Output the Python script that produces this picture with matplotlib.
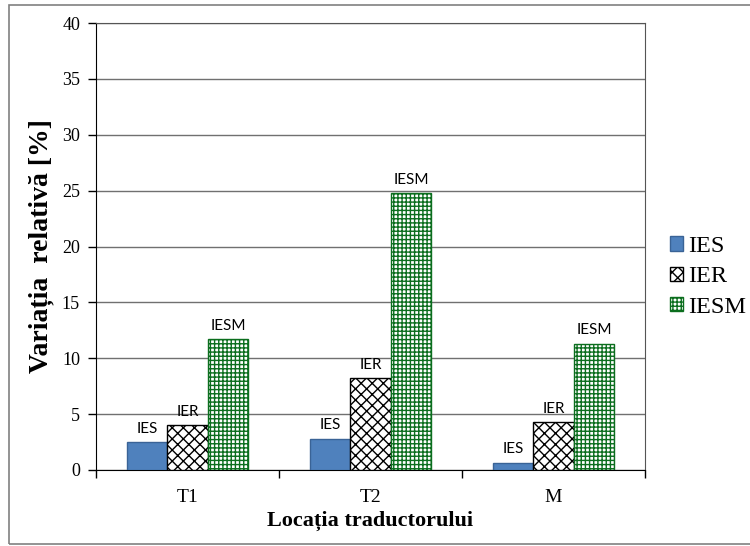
import matplotlib
matplotlib.use("Agg")
import matplotlib.pyplot as plt
import numpy as np
from matplotlib.patches import Rectangle

# Data
categories = ["T1", "T2", "M"]
series_names = ["IES", "IER", "IESM"]
ies_values = [2.5, 2.8, 0.65]
ier_values = [4.0, 8.2, 4.3]
iesm_values = [11.7, 24.8, 11.3]
y_ticks = [0, 5, 10, 15, 20, 25, 30, 35, 40]

serif = ["Liberation Serif", "DejaVu Serif"]
sans = ["Lato", "DejaVu Sans"]

fig = plt.figure(figsize=(7.5, 5.46), dpi=100)
ax = fig.add_axes([96 / 750, 1 - 470 / 546, (645 - 96) / 750, (470 - 23) / 546])

# outer chart border (right edge runs off the canvas)
fig.patches.append(Rectangle((9 / 750, 2 / 546), 745 / 750, 539 / 546,
                             transform=fig.transFigure, fill=False,
                             edgecolor="#808080", linewidth=1.2))

x = np.arange(len(categories))
w = 0.222
styles = [
    dict(facecolor="#4F81BD", edgecolor="#3A6396", hatch=None),
    dict(facecolor="white", edgecolor="black", hatch="xxx"),
    dict(facecolor="white", edgecolor="#0B6E1E", hatch="++++"),
]
all_vals = [ies_values, ier_values, iesm_values]
handles = []
for i, (name, vals, st) in enumerate(zip(series_names, all_vals, styles)):
    pos = x + (i - 1) * w
    bars = ax.bar(pos, vals, width=w, label=name, linewidth=1.0, zorder=3, **st)
    handles.append(bars)
    for p, v in zip(pos, vals):
        ax.annotate(name, (p, v), xytext=(0, 4.5), textcoords="offset points",
                    ha="center", va="bottom", fontsize=11, family=sans, zorder=4)

ax.set_xlim(-0.5, 2.5)
ax.set_ylim(0, 40)
ax.set_yticks(y_ticks)
ax.set_yticklabels([str(t) for t in y_ticks], family=serif, fontsize=13)
ax.set_xticks(x)
ax.set_xticklabels(categories, family=serif, fontsize=14)
ax.set_xticks([-0.5, 0.5, 1.5, 2.5], minor=True)
ax.tick_params(axis="x", which="major", length=0, pad=14)
ax.tick_params(axis="x", which="minor", length=6, width=1, direction="out")
ax.tick_params(axis="y", length=6, width=1, direction="out", pad=5.5)

ax.yaxis.grid(True, color="#707070", linewidth=1.0, zorder=0)
ax.set_axisbelow(True)
for side in ["top", "right"]:
    ax.spines[side].set_color("#555555")
for side in ["left", "bottom"]:
    ax.spines[side].set_color("black")

ax.set_ylabel("Variația  relativă [%]", family=serif, fontsize=20,
              fontweight="bold", labelpad=6)
ax.set_xlabel("Locația traductorului", family=serif, fontsize=16,
              fontweight="bold", labelpad=3)

leg = fig.legend(handles=handles, labels=series_names, loc="center left",
                 bbox_to_anchor=(670 / 750, 1 - 277 / 546), frameon=False,
                 prop={"family": serif, "size": 17.5}, handlelength=0.55,
                 handleheight=0.55, handletextpad=0.2, labelspacing=0.38,
                 borderaxespad=0, borderpad=0)

fig.savefig("out.png", dpi=100)
